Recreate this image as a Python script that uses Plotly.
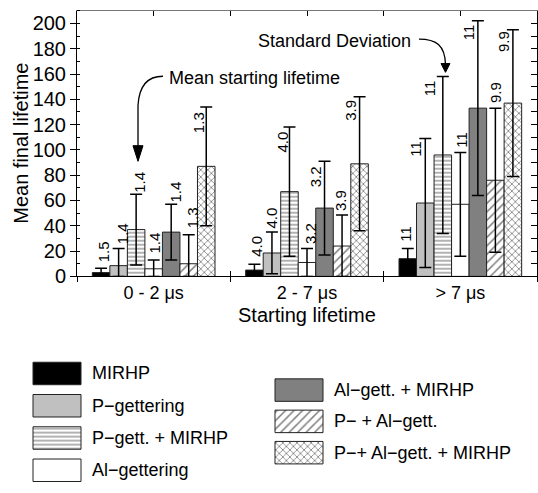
import plotly.graph_objects as go

# ---- data ----
categories = ["0 - 2 μs", "2 - 7 μs", "> 7 μs"]
cat_pos = [1, 3, 5]
series_names = ["MIRHP", "P−gettering", "P−gett. + MIRHP", "Al−gettering",
                "Al−gett. + MIRHP", "P− + Al−gett.", "P−+ Al−gett. + MIRHP"]
mirhp = [3, 5, 14]
p_gett = [8.5, 18.5, 58]
p_gett_mirhp = [37, 67, 96]
al_gett = [6, 11, 57]
al_gett_mirhp = [35, 54, 133]
p_al_gett = [10, 24, 76]
p_al_gett_mirhp = [87, 89, 137]
values = [mirhp, p_gett, p_gett_mirhp, al_gett, al_gett_mirhp, p_al_gett, p_al_gett_mirhp]

sd_mirhp = [3.5, 4.5, 8]
sd_p_gett = [13.5, 16.5, 51]
sd_p_gett_mirhp = [28, 51, 62]
sd_al_gett = [7, 11, 41]
sd_al_gett_mirhp = [22, 37, 69]
sd_p_al_gett = [23, 24.5, 57]
sd_p_al_gett_mirhp = [47, 53, 58]
sds = [sd_mirhp, sd_p_gett, sd_p_gett_mirhp, sd_al_gett, sd_al_gett_mirhp, sd_p_al_gett, sd_p_al_gett_mirhp]

start_mirhp = ["1.5", "4.0", "11"]
start_p_gett = ["1.4", "4.0", "11"]
start_p_gett_mirhp = ["1.4", "4.0", "11"]
start_al_gett = ["1.4", "3.2", "11"]
start_al_gett_mirhp = ["1.4", "3.2", "11"]
start_p_al_gett = ["1.3", "3.9", "9.9"]
start_p_al_gett_mirhp = ["1.3", "3.9", "9.9"]
start_labels = [start_mirhp, start_p_gett, start_p_gett_mirhp, start_al_gett,
                start_al_gett_mirhp, start_p_al_gett, start_p_al_gett_mirhp]

y_ticks = list(range(0, 201, 20))

# ---- styles / layout helpers ----
FONT = "Liberation Sans, Arial, sans-serif"
W, H = 538, 493
def px(x): return x / W
def py(y): return 1 - y / H

# label placement offsets in pixels (dx, dy of label bottom relative to error-bar top)
label_offsets = [
    [(2.5, 4), (2.5, 6), (-2.5, 5)],
    [(3.5, 2), (0, 2), (-10, -20)],
    [(4, -1), (-6.5, -27), (-13, -22)],
    [(0.5, 4), (3, 2), (1, 3)],
    [(4.5, 0), (-9, -28), (-8.5, -21)],
    [(3.5, 4), (-1.5, 2), (0, 3)],
    [(-7.5, -28), (-9, -26), (-10, -24)],
]

styles = [
    dict(color="black"),
    dict(color="#c0c0c0"),
    dict(color="white", pattern=dict(shape="-", size=4, solidity=0.3, fgcolor="black", bgcolor="white")),
    dict(color="white"),
    dict(color="#808080"),
    dict(color="white", pattern=dict(shape="/", size=6, solidity=0.25, fgcolor="black", bgcolor="white")),
    dict(color="white", pattern=dict(shape="x", size=5, solidity=0.3, fgcolor="black", bgcolor="white")),
]

fig = go.Figure()
for name, vals, sd, st in zip(series_names, values, sds, styles):
    fig.add_trace(go.Bar(
        x=cat_pos, y=vals, name=name, showlegend=False,
        marker=dict(line=dict(color="#222", width=1), **st),
        error_y=dict(type="data", symmetric=False, array=sd,
                     arrayminus=[min(s, v) for s, v in zip(sd, vals)],
                     color="black", thickness=1.5, width=6),
        hoverinfo="skip",
    ))

n = len(series_names)
group_w = 1.6
bw = group_w / n
annotations = []
for i, (vals, sd, labs, offs) in enumerate(zip(values, sds, start_labels, label_offsets)):
    for c, v, s, lab, (dx, dy) in zip(cat_pos, vals, sd, labs, offs):
        xc = c + (i - (n - 1) / 2) * bw
        annotations.append(dict(x=xc, y=v + s, xref="x", yref="y", text=lab,
                                showarrow=False, textangle=-90, xanchor="center",
                                yanchor="bottom", xshift=dx, yshift=dy,
                                font=dict(family=FONT, size=15, color="black")))

for xa, ya in [("x2", "y"), ("x3", "y"), ("x4", "y"), ("x", "y2")]:
    fig.add_trace(go.Scatter(x=[None], y=[None], xaxis=xa, yaxis=ya, showlegend=False, hoverinfo="skip"))

# legend swatches drawn as bars on a hidden pixel-unit axis
leg_rows = [(33, 382), (33, 415), (33, 448), (33, 481), (275, 399), (275, 431), (275, 463)]
for (lx, ly), name, st in zip(leg_rows, series_names, styles):
    fig.add_trace(go.Bar(
        x=[48], y=[ly], base=[lx], width=[23], orientation="h",
        xaxis="x5", yaxis="y5", showlegend=False, hoverinfo="skip",
        marker=dict(line=dict(color="#222", width=1), **st)))
    annotations.append(dict(x=px(lx + 57), y=py(ly), xref="paper", yref="paper", text=name,
                            showarrow=False, xanchor="left", yanchor="middle",
                            font=dict(family=FONT, size=18, color="black")))

annotations.append(dict(x=px(21), y=py(147), xref="paper", yref="paper", text="Mean final lifetime",
                        textangle=-90, showarrow=False, xanchor="center", yanchor="middle",
                        font=dict(family=FONT, size=20, color="black")))
annotations.append(dict(x=px(307), y=py(322), xref="paper", yref="paper", text="Starting lifetime",
                        showarrow=False, xanchor="center", yanchor="middle",
                        font=dict(family=FONT, size=20, color="black")))
annotations.append(dict(x=px(167), y=py(80), xref="paper", yref="paper", text="Mean starting lifetime",
                        showarrow=False, xanchor="left", yanchor="middle",
                        font=dict(family=FONT, size=18, color="black")))
annotations.append(dict(x=px(413), y=py(42), xref="paper", yref="paper", text="Standard Deviation",
                        showarrow=False, xanchor="right", yanchor="middle",
                        font=dict(family=FONT, size=18, color="black")))

def P(x, y): return f"{px(x):.5f},{py(y):.5f}"
shapes = [
    dict(type="path", xref="paper", yref="paper",
         path=f"M {P(163,78)} C {P(148,78)} {P(139,88)} {P(138,108)} L {P(138,150)}",
         line=dict(color="black", width=1.3)),
    dict(type="path", xref="paper", yref="paper",
         path=f"M {P(133,149)} L {P(143,149)} L {P(138,165)} Z",
         fillcolor="black", line=dict(color="black", width=1)),
    dict(type="path", xref="paper", yref="paper",
         path=f"M {P(419,40)} C {P(436,40)} {P(445,46)} {P(445.5,66)}",
         line=dict(color="black", width=1.3)),
    dict(type="path", xref="paper", yref="paper",
         path=f"M {P(441,65)} L {P(450,65)} L {P(445.5,74)} Z",
         fillcolor="black", line=dict(color="black", width=1)),
]

xdom = [77 / W, 537 / W]
ydom = [1 - 282.7 / H, 1 - 11 / H]
tickfont = dict(family=FONT, size=20, color="black")

fig.update_layout(
    width=W, height=H, margin=dict(l=0, r=0, t=0, b=0),
    paper_bgcolor="white", plot_bgcolor="white",
    barmode="group", bargap=0.2, bargroupgap=0,
    font=dict(family=FONT, color="black"),
    xaxis=dict(domain=xdom, range=[0, 6], tickvals=cat_pos, ticktext=categories,
               ticks="", tickfont=dict(family=FONT, size=18, color="black"),
               showline=True, linecolor="black", linewidth=1, showgrid=False, zeroline=False,
               fixedrange=True),
    xaxis2=dict(overlaying="x", anchor="y", side="bottom", range=[0, 6], tickvals=[0, 2, 4, 6],
                ticks="outside", ticklen=5, tickcolor="black", showticklabels=False,
                showline=False, showgrid=False, zeroline=False),
    xaxis3=dict(overlaying="x", anchor="y", side="bottom", range=[0, 6], tickvals=[2, 4],
                ticks="inside", ticklen=5, tickcolor="black", showticklabels=False,
                showline=False, showgrid=False, zeroline=False),
    xaxis4=dict(overlaying="x", anchor="y", side="top", range=[0, 6], tickvals=[1, 2, 3, 4, 5],
                ticks="inside", ticklen=5, tickcolor="black", showticklabels=False,
                showline=True, linecolor="#777", linewidth=1, showgrid=False, zeroline=False),
    yaxis=dict(domain=ydom, range=[0, 210], tickvals=y_ticks, ticks="outside", ticklen=6,
               tickcolor="black", tickfont=tickfont, showline=True, linecolor="black",
               linewidth=1, showgrid=False, zeroline=False,
               minor=dict(ticks="inside", ticklen=3, tickcolor="black", dtick=10, tick0=0, showgrid=False)),
    yaxis2=dict(overlaying="y", anchor="x", side="right", range=[0, 210], dtick=10, tick0=0,
                ticks="inside", ticklen=6, tickcolor="black", showticklabels=False,
                showline=True, linecolor="black", linewidth=1, showgrid=False, zeroline=False),
    xaxis5=dict(domain=[0, 1], range=[0, W], visible=False, anchor="y5", fixedrange=True),
    yaxis5=dict(domain=[0, 1 - 330 / H], range=[H, 330], visible=False, anchor="x5", fixedrange=True),
    annotations=annotations, shapes=shapes,
)

fig.write_html("out.html", config={"displayModeBar": False},
               post_script="document.body.style.margin='0';document.body.style.overflow='hidden';")
